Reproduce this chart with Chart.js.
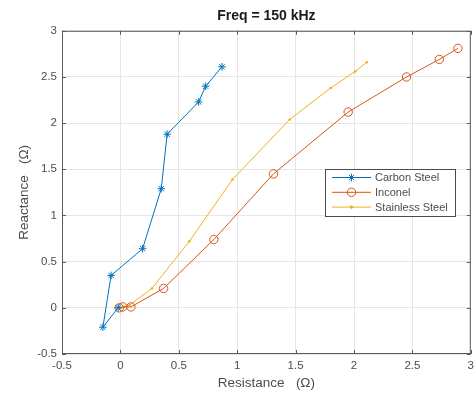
<!DOCTYPE html>
<html>
<head>
<meta charset="utf-8">
<script src="https://cdn.jsdelivr.net/npm/chart.js@4.4.1/dist/chart.umd.min.js"></script>
<style>
  html, body { margin: 0; padding: 0; background: #fff; }
  #wrap { width: 476px; height: 394px; }
</style>
</head>
<body>
<div id="wrap"><canvas id="impedance"></canvas></div>
<script>
// impedance plane readings at 150 kHz (resistance / reactance, ohm)
let carbon_R = [-0.02, -0.15, -0.08, 0.19, 0.35, 0.40, 0.67, 0.73, 0.87];
let carbon_X = [0.00, -0.21, 0.35, 0.64, 1.29, 1.88, 2.23, 2.40, 2.61];

let inconel_R = [-0.01, 0.02, 0.09, 0.37, 0.80, 1.31, 1.95, 2.45, 2.73, 2.89];
let inconel_X = [0.00, 0.01, 0.01, 0.21, 0.74, 1.45, 2.12, 2.50, 2.69, 2.81];

let stainless_R = [0.00, 0.03, 0.08, 0.27, 0.59, 0.96, 1.45, 1.80, 2.01, 2.11];
let stainless_X = [0.00, 0.01, 0.03, 0.21, 0.72, 1.39, 2.04, 2.38, 2.56, 2.66];

let series_names = ['Carbon Steel', 'Inconel', 'Stainless Steel'];
let tick_values = [-0.5, 0, 0.5, 1, 1.5, 2, 2.5, 3];

const to_points = (xs, ys) => xs.map((x, i) => ({ x: x, y: ys[i] }));
const tick_text = v => String(Math.round(v * 10) / 10);

const font_family = '"Liberation Sans", Arial, Helvetica, sans-serif';
const axis_color = '#5a5a5a';
const text_color = '#4d4d4d';

// box around the axes with short inward ticks, like a matlab figure
const boxTicks = {
    id: 'boxTicks',
    afterDatasetsDraw(chart) {
        const { ctx, chartArea: a, scales } = chart;
        ctx.save();
        ctx.strokeStyle = axis_color;
        ctx.lineWidth = 1;
        ctx.strokeRect(a.left + 0.5, a.top + 0.5, a.right - a.left - 1, a.bottom - a.top - 1);
        ctx.beginPath();
        tick_values.forEach(v => {
            const px = Math.round(scales.x.getPixelForValue(v)) + 0.5;
            const py = Math.round(scales.y.getPixelForValue(v)) + 0.5;
            ctx.moveTo(px, a.bottom); ctx.lineTo(px, a.bottom - 4);
            ctx.moveTo(px, a.top); ctx.lineTo(px, a.top + 4);
            ctx.moveTo(a.left, py); ctx.lineTo(a.left + 4, py);
            ctx.moveTo(a.right, py); ctx.lineTo(a.right - 4, py);
        });
        ctx.stroke();
        ctx.restore();
    }
};

// legend box drawn inside the plot area
const insideLegend = {
    id: 'insideLegend',
    afterDraw(chart) {
        const ctx = chart.ctx;
        const box = { x: 325, y: 169, w: 130, h: 47 };
        ctx.save();
        ctx.fillStyle = '#ffffff';
        ctx.fillRect(box.x, box.y, box.w, box.h);
        ctx.strokeStyle = '#4a4a4a';
        ctx.lineWidth = 1;
        ctx.strokeRect(box.x + 0.5, box.y + 0.5, box.w, box.h);
        ctx.font = '11px ' + font_family;
        ctx.textBaseline = 'middle';
        chart.data.datasets.forEach((ds, i) => {
            const cy = box.y + 8.5 + i * 14.8;
            ctx.strokeStyle = ds.borderColor;
            ctx.lineWidth = 1;
            ctx.beginPath();
            ctx.moveTo(box.x + 7, cy);
            ctx.lineTo(box.x + 46, cy);
            ctx.stroke();
            ctx.fillStyle = ds.pointBackgroundColor;
            ctx.strokeStyle = ds.borderColor;
            Chart.helpers.drawPoint(ctx, {
                pointStyle: ds.pointStyle,
                radius: ds.pointRadius,
                rotation: 0,
                borderWidth: 1
            }, box.x + 26.5, cy);
            ctx.fillStyle = text_color;
            ctx.fillText(ds.label, box.x + 50, cy + 0.5);
        });
        ctx.restore();
    }
};

let chart_canvas = document.getElementById('impedance');

let chart = new Chart(chart_canvas, {
    type: 'scatter',
    data: {
        datasets: [{
            label: series_names[0],
            data: to_points(carbon_R, carbon_X),
            showLine: true,
            borderColor: '#0072BD',
            borderWidth: 1,
            pointStyle: 'star',
            pointRadius: 3.8,
            pointBorderWidth: 1,
            pointBackgroundColor: '#0072BD'
        }, {
            label: series_names[1],
            data: to_points(inconel_R, inconel_X),
            showLine: true,
            borderColor: '#D95319',
            borderWidth: 1,
            pointStyle: 'circle',
            pointRadius: 4.2,
            pointBorderWidth: 1,
            pointBackgroundColor: 'rgba(0,0,0,0)'
        }, {
            label: series_names[2],
            data: to_points(stainless_R, stainless_X),
            showLine: true,
            borderColor: '#EDB120',
            borderWidth: 1,
            pointStyle: 'circle',
            pointRadius: 1.3,
            pointBorderWidth: 0,
            pointBackgroundColor: '#EDB120'
        }]
    },
    options: {
        responsive: true,
        maintainAspectRatio: false,
        animation: false,
        devicePixelRatio: 1,
        layout: { padding: { left: 0, right: 2, top: 0, bottom: 0 } },
        plugins: {
            legend: { display: false },
            tooltip: { enabled: false },
            title: {
                display: true,
                fullSize: false,
                text: 'Freq = 150 kHz',
                color: '#1a1a1a',
                font: { family: font_family, size: 14, weight: 'bold' },
                padding: { top: 7.5, bottom: 6.5 }
            }
        },
        scales: {
            x: {
                type: 'linear',
                min: -0.5,
                max: 3,
                afterFit(scale) { scale.height = 40; scale.paddingLeft = 0; scale.paddingRight = 0; },
                afterBuildTicks(scale) { scale.ticks = tick_values.map(v => ({ value: v })); },
                ticks: {
                    color: text_color,
                    padding: 5,
                    maxRotation: 0,
                    autoSkip: false,
                    callback: tick_text,
                    font: { family: font_family, size: 11.5 }
                },
                grid: { color: '#e6e6e6', drawTicks: false },
                border: { display: false },
                title: {
                    display: true,
                    text: 'Resistance   (Ω)',
                    color: text_color,
                    font: { family: font_family, size: 13.5 },
                    padding: { top: 4, bottom: 2.5 }
                }
            },
            y: {
                type: 'linear',
                min: -0.5,
                max: 3,
                afterFit(scale) { scale.width = 62; scale.paddingTop = 0; scale.paddingBottom = 0; },
                afterBuildTicks(scale) { scale.ticks = tick_values.map(v => ({ value: v })); },
                ticks: {
                    color: text_color,
                    padding: 5,
                    autoSkip: false,
                    callback: tick_text,
                    font: { family: font_family, size: 11.5 }
                },
                grid: { color: '#e6e6e6', drawTicks: false },
                border: { display: false },
                title: {
                    display: true,
                    text: 'Reactance   (Ω)',
                    color: text_color,
                    font: { family: font_family, size: 13.5 },
                    padding: { top: 16, bottom: 0 }
                }
            }
        }
    },
    plugins: [boxTicks, insideLegend]
});
</script>
</body>
</html>
